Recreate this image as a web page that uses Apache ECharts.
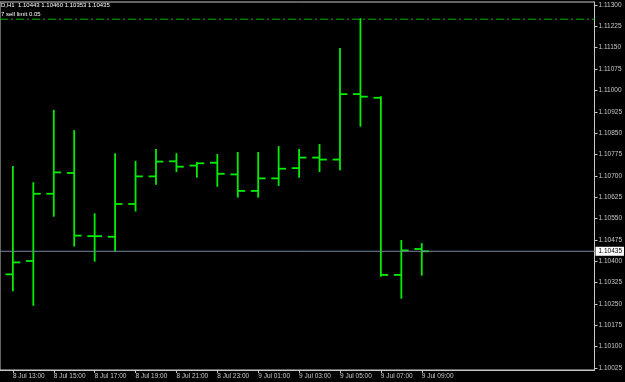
<!DOCTYPE html>
<html>
<head>
<meta charset="utf-8">
<script src="https://cdn.jsdelivr.net/npm/echarts@6/dist/echarts.min.js"></script>
<style>
	html, body { margin: 0; padding: 0; background: #000; }
	#chart { width: 625px; height: 382px; }
</style>
</head>
<body>
<div id="chart"></div>
<script>
// hourly bars, EURUSD-like H1
const times = ['8 Jul 13:00', '8 Jul 14:00', '8 Jul 15:00', '8 Jul 16:00', '8 Jul 17:00', '8 Jul 18:00',
	'8 Jul 19:00', '8 Jul 20:00', '8 Jul 21:00', '8 Jul 22:00', '8 Jul 23:00', '9 Jul 00:00',
	'9 Jul 01:00', '9 Jul 02:00', '9 Jul 03:00', '9 Jul 04:00', '9 Jul 05:00', '9 Jul 06:00',
	'9 Jul 07:00', '9 Jul 08:00', '9 Jul 09:00'];
const opens = [1.10354, 1.10401, 1.10637, 1.10710, 1.10488, 1.10486, 1.10601, 1.10698, 1.10751, 1.10736, 1.10746,
	1.10705, 1.10647, 1.10691, 1.10727, 1.10764, 1.10757, 1.10987, 1.10974, 1.10352, 1.10443];
const highs = [1.10731, 1.10674, 1.10928, 1.10857, 1.10565, 1.10776, 1.10749, 1.10791, 1.10776, 1.10745, 1.10773,
	1.10780, 1.10780, 1.10801, 1.10791, 1.10808, 1.11145, 1.11250, 1.10976, 1.10471, 1.10460];
const lows = [1.10298, 1.10247, 1.10560, 1.10455, 1.10402, 1.10438, 1.10578, 1.10672, 1.10717, 1.10697, 1.10665,
	1.10627, 1.10627, 1.10668, 1.10697, 1.10717, 1.10723, 1.10876, 1.10349, 1.10272, 1.10353];
const closes = [1.10396, 1.10637, 1.10712, 1.10490, 1.10488, 1.10601, 1.10698, 1.10750, 1.10732, 1.10744, 1.10707,
	1.10647, 1.10691, 1.10725, 1.10764, 1.10757, 1.10987, 1.10978, 1.10352, 1.10438, 1.10435];
const priceTicks = [1.10025, 1.10100, 1.10175, 1.10250, 1.10325, 1.10400, 1.10475, 1.10550, 1.10625,
	1.10700, 1.10775, 1.10850, 1.10925, 1.11000, 1.11075, 1.11150, 1.11225, 1.11300];
const timeTicks = [0, 2, 4, 6, 8, 10, 12, 14, 16, 18, 20];
const sellLimit = 1.11250;
const orderText = '7 sell limit 0.05';

const last = times.length - 1;
const bid = closes[last];
const bars = times.map((t, i) => [i, opens[i], highs[i], lows[i], closes[i]]);

const xMin = -0.63;
const xMax = 28.45;
const barColor = '#00ee00';
const fg = '#c8c8c8';
const font = 'Liberation Sans';

let myChart = echarts.init(document.getElementById('chart'));

/*OHLC bar: vertical high-low, open tick left, close tick right*/
function renderBar(params, api) {
	let x = api.value(0);
	let o = api.coord([x, api.value(1)]);
	let h = api.coord([x, api.value(2)]);
	let l = api.coord([x, api.value(3)]);
	let c = api.coord([x, api.value(4)]);
	let w = api.size([1, 0])[0] * 0.36;
	let st = { stroke: barColor, lineWidth: 1.8 };
	return {
		type: 'group',
		children: [
			{ type: 'line', shape: { x1: h[0], y1: h[1] - 1, x2: l[0], y2: l[1] + 1 }, style: st },
			{ type: 'line', shape: { x1: o[0] - w, y1: o[1], x2: o[0], y2: o[1] }, style: st },
			{ type: 'line', shape: { x1: c[0], y1: c[1], x2: c[0] + w, y2: c[1] }, style: st }
		]
	};
}

let option = {
	backgroundColor: '#000',
	animation: false,
	title: {
		text: 'D,H1  ' + [opens[last], highs[last], lows[last], closes[last]].map(v => v.toFixed(5)).join(' '),
		subtext: orderText,
		left: 1,
		top: 2,
		padding: 0,
		itemGap: 3,
		textStyle: { color: '#ffffff', fontSize: 6, fontWeight: 'normal', fontFamily: font },
		subtextStyle: { color: '#ffffff', fontSize: 6, fontFamily: font }
	},
	grid: {
		left: -2,
		right: 28,
		top: 2,
		bottom: 12,
		show: true,
		borderColor: fg,
		borderWidth: 1
	},
	xAxis: {
		type: 'value',
		min: xMin,
		max: xMax,
		splitLine: { show: false },
		axisLine: { show: true, onZero: false, lineStyle: { color: fg, width: 1 } },
		axisTick: { show: true, length: 3, customValues: timeTicks, lineStyle: { color: fg } },
		axisLabel: {
			customValues: timeTicks,
			formatter: v => times[v] || '',
			color: fg,
			fontSize: 6.5,
			fontFamily: font,
			align: 'left',
			margin: 3
		}
	},
	yAxis: {
		type: 'value',
		position: 'right',
		min: 1.10018,
		max: 1.113105,
		scale: true,
		splitLine: { show: false },
		axisLine: { show: true, onZero: false, lineStyle: { color: fg, width: 1 } },
		axisTick: { show: true, length: 3, customValues: priceTicks, lineStyle: { color: fg } },
		axisLabel: {
			customValues: priceTicks,
			formatter: v => v.toFixed(5),
			color: fg,
			fontSize: 6.5,
			fontFamily: font,
			margin: 4
		}
	},
	series: [
		{
			name: 'sell limit',
			type: 'line',
			data: [[xMin, sellLimit], [xMax, sellLimit]],
			symbol: 'none',
			silent: true,
			lineStyle: { color: '#00b400', width: 1, type: [8, 3, 2, 3] }
		},
		{
			name: 'bid',
			type: 'line',
			data: [[xMin, bid], [xMax, bid]],
			symbol: 'none',
			silent: true,
			lineStyle: { color: '#778899', width: 1 },
			endLabel: {
				show: true,
				formatter: bid.toFixed(5),
				distance: 1,
				backgroundColor: '#ffffff',
				color: '#000000',
				fontSize: 6.5,
				fontFamily: font,
				padding: [1, 2, 1, 3]
			}
		},
		{
			type: 'custom',
			renderItem: renderBar,
			encode: { x: 0, y: [1, 2, 3, 4] },
			data: bars,
			clip: true,
			z: 3
		}
	]
};

myChart.setOption(option);
</script>
</body>
</html>
